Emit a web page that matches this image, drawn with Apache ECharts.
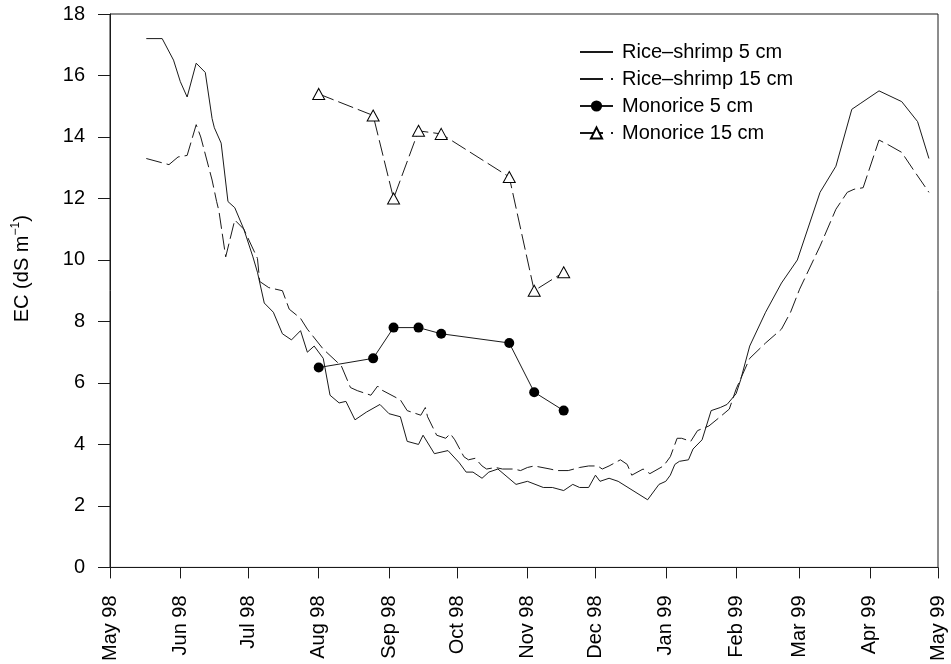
<!DOCTYPE html>
<html><head><meta charset="utf-8">
<script src="https://cdn.jsdelivr.net/npm/echarts@6/dist/echarts.min.js"></script>
<style>html,body{margin:0;padding:0;background:#fff}#c{width:951px;height:664px}</style>
</head><body><div id="c"></div>
<script>
// ---- data ----
const xTickDates = ['1998-05-01','1998-06-01','1998-07-01','1998-08-01','1998-09-01','1998-10-01','1998-11-01','1998-12-01','1999-01-01','1999-02-01','1999-03-01','1999-04-01','1999-05-01'];
const xTickLabels = ['May 98','Jun 98','Jul 98','Aug 98','Sep 98','Oct 98','Nov 98','Dec 98','Jan 99','Feb 99','Mar 99','Apr 99','May 99'];

const rs5Dates = ['1998-05-17','1998-05-24','1998-05-29','1998-06-01','1998-06-04','1998-06-08','1998-06-12','1998-06-15','1998-06-16','1998-06-19','1998-06-22','1998-06-25','1998-06-29','1998-07-03','1998-07-05','1998-07-08','1998-07-12','1998-07-16','1998-07-20','1998-07-24','1998-07-27','1998-07-30','1998-08-03','1998-08-06','1998-08-10','1998-08-13','1998-08-17','1998-08-22','1998-08-28','1998-09-01','1998-09-06','1998-09-09','1998-09-14','1998-09-16','1998-09-21','1998-09-27','1998-10-02','1998-10-05','1998-10-08','1998-10-12','1998-10-15','1998-10-19','1998-10-27','1998-11-01','1998-11-08','1998-11-12','1998-11-17','1998-11-21','1998-11-24','1998-11-28','1998-12-01','1998-12-03','1998-12-07','1998-12-11','1998-12-24','1998-12-29','1999-01-01','1999-01-03','1999-01-05','1999-01-07','1999-01-11','1999-01-13','1999-01-17','1999-01-21','1999-01-25','1999-01-28','1999-02-01','1999-02-03','1999-02-07','1999-02-14','1999-02-21','1999-02-28','1999-03-10','1999-03-17','1999-03-24','1999-03-28','1999-04-05','1999-04-15','1999-04-22','1999-04-27'];
const rs5 = [17.2,17.2,16.5,15.8,15.3,16.4,16.1,14.6,14.3,13.8,11.9,11.7,11.0,10.1,9.6,8.6,8.3,7.6,7.4,7.7,7.0,7.2,6.8,5.6,5.35,5.4,4.8,5.05,5.3,5.0,4.9,4.1,4.0,4.3,3.7,3.8,3.4,3.1,3.1,2.9,3.1,3.2,2.7,2.8,2.6,2.6,2.5,2.7,2.6,2.6,3.0,2.8,2.9,2.8,2.2,2.7,2.8,3.0,3.35,3.45,3.5,3.85,4.15,5.1,5.2,5.3,5.65,6.1,7.2,8.3,9.25,10.0,12.2,13.05,14.9,15.1,15.5,15.15,14.5,13.3];

const rs15Dates = ['1998-05-17','1998-05-27','1998-05-31','1998-06-04','1998-06-08','1998-06-10','1998-06-15','1998-06-17','1998-06-18','1998-06-21','1998-06-25','1998-06-29','1998-07-05','1998-07-06','1998-07-10','1998-07-16','1998-07-19','1998-07-24','1998-07-27','1998-08-03','1998-08-11','1998-08-15','1998-08-18','1998-08-24','1998-08-27','1998-08-28','1998-09-06','1998-09-09','1998-09-15','1998-09-17','1998-09-18','1998-09-22','1998-09-26','1998-09-28','1998-09-30','1998-10-04','1998-10-06','1998-10-09','1998-10-12','1998-10-14','1998-10-18','1998-10-21','1998-10-26','1998-10-29','1998-11-01','1998-11-04','1998-11-11','1998-11-14','1998-11-19','1998-11-24','1998-11-28','1998-12-02','1998-12-04','1998-12-07','1998-12-12','1998-12-15','1998-12-17','1998-12-22','1998-12-25','1998-12-31','1999-01-03','1999-01-06','1999-01-08','1999-01-12','1999-01-15','1999-01-20','1999-01-25','1999-01-29','1999-02-01','1999-02-07','1999-02-14','1999-02-21','1999-02-25','1999-03-01','1999-03-10','1999-03-17','1999-03-22','1999-03-25','1999-03-29','1999-04-05','1999-04-09','1999-04-15','1999-04-20','1999-04-27'];
const rs15 = [13.3,13.1,13.35,13.4,14.4,14.0,12.6,11.9,11.6,10.1,11.3,11.0,10.05,9.3,9.1,9.0,8.4,8.1,7.75,7.1,6.55,5.85,5.75,5.6,5.9,5.8,5.45,5.1,4.95,5.2,4.9,4.3,4.2,4.35,4.15,3.6,3.5,3.55,3.3,3.2,3.25,3.2,3.2,3.15,3.25,3.3,3.2,3.15,3.15,3.25,3.3,3.3,3.2,3.3,3.5,3.35,3.0,3.2,3.05,3.3,3.6,4.2,4.2,4.1,4.45,4.6,4.9,5.15,5.8,6.8,7.3,7.75,8.3,9.05,10.45,11.65,12.2,12.3,12.35,13.9,13.75,13.5,12.95,12.2];

const monoDates = ['1998-08-01','1998-08-25','1998-09-03','1998-09-14','1998-09-24','1998-10-24','1998-11-04','1998-11-17'];
const mono5 = [6.5,6.8,7.8,7.8,7.6,7.3,5.7,5.1];
const mono15 = [15.4,14.7,12.0,14.2,14.1,12.7,9.0,9.6];

const seriesNames = ['Rice\u2013shrimp 5 cm','Rice\u2013shrimp 15 cm','Monorice 5 cm','Monorice 15 cm'];

// ---- helpers ----
function toTs(s){ const p = s.split('-').map(Number); return Date.UTC(p[0], p[1]-1, p[2]); }
function pairs(dates, vals){ return dates.map((d,i)=>[toTs(d), vals[i]]); }
const tickTs = xTickDates.map(toTs);
function labelFor(v){ const i = tickTs.indexOf(v); return i >= 0 ? xTickLabels[i] : ''; }

const FONT = 'Liberation Sans, Arial, sans-serif';
const INK = '#1a1a1a';

const chart = echarts.init(document.getElementById('c'), null, {renderer:'canvas'});
chart.setOption({
  animation: false,
  backgroundColor: '#fff',
  textStyle: {fontFamily: FONT},
  grid: {left:110, right:13, top:14, bottom:96, show:true, borderColor:INK, borderWidth:1},
  legend: {
    orient:'vertical', left:579, top:42, padding:0,
    itemWidth:33, itemHeight:14, itemGap:7,
    textStyle:{fontSize:20, color:'#000', fontFamily:FONT, padding:[0,0,0,4]},
    data: [
      {name: seriesNames[0], itemStyle:{opacity:0}},
      {name: seriesNames[1], itemStyle:{opacity:0}, lineStyle:{type:[23,8]}},
      {name: seriesNames[2]},
      {name: seriesNames[3], lineStyle:{type:[23,8]}}
    ]
  },
  xAxis: {
    type:'value', min: tickTs[0], max: tickTs[tickTs.length-1],
    axisLine:{lineStyle:{color:INK, width:1}},
    axisTick:{show:true, length:11, customValues: tickTs, lineStyle:{color:INK}},
    axisLabel:{customValues: tickTs, rotate:90, margin:28, fontSize:20, color:'#000', fontFamily:FONT, formatter: v => labelFor(v)},
    splitLine:{show:false}
  },
  yAxis: {
    type:'value', min:0, max:18, interval:2,
    axisLine:{show:true, lineStyle:{color:INK, width:1}},
    axisTick:{show:true, length:12, lineStyle:{color:INK}},
    axisLabel:{margin:25, fontSize:20, color:'#000', fontFamily:FONT},
    splitLine:{show:false},
    name:'EC (dS m{sup|\u22121})', nameLocation:'middle', nameGap:76, nameRotate:90,
    nameTextStyle:{fontSize:20, color:'#000', fontFamily:FONT, padding:[0,0,0,44], lineHeight:24,
      rich:{sup:{fontSize:12, verticalAlign:'top', lineHeight:12, color:'#000', fontFamily:FONT}}}
  },
  series: [
    {name:seriesNames[0], type:'line', data:pairs(rs5Dates, rs5), symbol:'none',
     lineStyle:{color:INK, width:1}, itemStyle:{color:INK}, z:2},
    {name:seriesNames[1], type:'line', data:pairs(rs15Dates, rs15), symbol:'none',
     lineStyle:{color:INK, width:1, type:[16,5]}, itemStyle:{color:INK}, z:2},
    {name:seriesNames[2], type:'line', data:pairs(monoDates, mono5), symbol:'circle', symbolSize:10,
     lineStyle:{color:INK, width:1}, itemStyle:{color:'#000'}, z:3},
    {name:seriesNames[3], type:'line', data:pairs(monoDates, mono15), symbol:'triangle', symbolSize:[12,11],
     lineStyle:{color:INK, width:1, type:[16,5]}, itemStyle:{color:'#fff', borderColor:'#000', borderWidth:1}, z:3}
  ]
});
</script></body></html>
